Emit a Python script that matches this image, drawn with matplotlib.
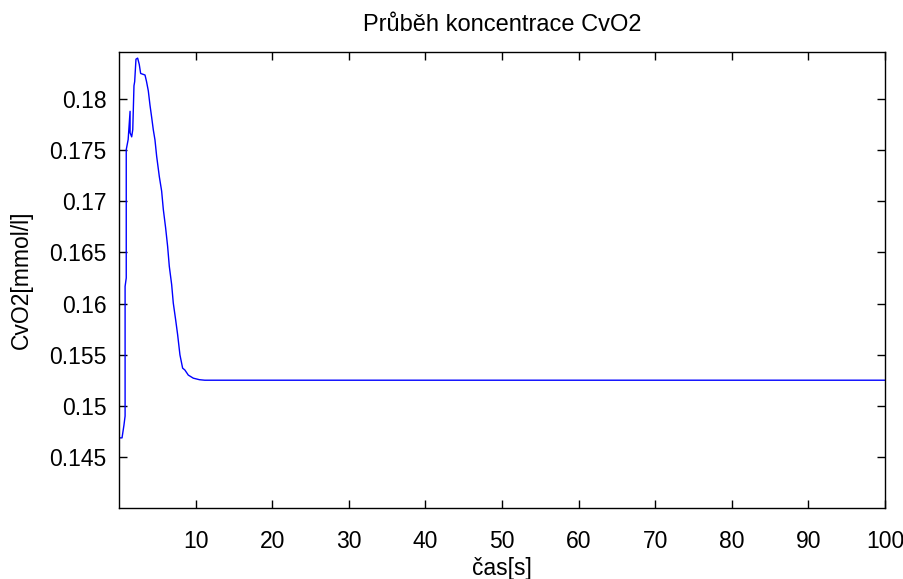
import numpy as np
import matplotlib
matplotlib.use("Agg")
import matplotlib.pyplot as plt

plt.rcParams['font.family'] = ['Liberation Sans', 'DejaVu Sans']

# values (time in s, concentration in mmol/l)
t = [0.0, 0.4, 0.65, 0.8, 0.8, 0.95, 0.95, 1.2, 1.45, 1.45, 1.66, 1.8, 1.96,
     2.05, 2.22, 2.44, 2.65, 2.83, 3.4, 3.6, 3.83, 4.05, 4.27, 4.48, 4.7,
     4.92, 5.27, 5.57, 5.79, 6.09, 6.35, 6.57, 6.88, 7.09, 7.4, 7.66, 7.96,
     8.31, 8.6, 9.05, 9.7, 10.5, 11.2, 100.0]
cvo2 = [0.14686, 0.14686, 0.1481, 0.1490, 0.16167, 0.1625, 0.17505, 0.17604,
        0.1788, 0.1767, 0.1763, 0.1770, 0.1813, 0.1817, 0.1839, 0.1840,
        0.18338, 0.1825, 0.18235, 0.1817, 0.1808, 0.1794, 0.1782, 0.1770,
        0.1760, 0.1744, 0.1724, 0.1710, 0.1692, 0.1674, 0.1656, 0.16364,
        0.16184, 0.16005, 0.1584, 0.15694, 0.15498, 0.15368, 0.1535, 0.1530,
        0.1527, 0.15255, 0.1525, 0.1525]

xticks = [10, 20, 30, 40, 50, 60, 70, 80, 90, 100]
yticks = [0.145, 0.15, 0.155, 0.16, 0.165, 0.17, 0.175, 0.18]
ylabels = ['0.145', '0.15', '0.155', '0.16', '0.165', '0.17', '0.175', '0.18']

fig = plt.figure(figsize=(9.04, 5.79), dpi=100)
ax = fig.add_axes([0.1316, 0.1226, 0.979 - 0.1316, 0.9102 - 0.1226])

ax.plot(t, cvo2, color='#0000ff', linewidth=1.0)

ax.set_xlim(0, 100)
ax.set_ylim(0.14, 0.1846)
ax.set_xticks(xticks)
ax.set_yticks(yticks)
ax.set_yticklabels(ylabels)
ax.tick_params(direction='in', length=6, width=1, top=True, right=True,
               labelsize=16.5)
ax.tick_params(axis='x', pad=16)
ax.tick_params(axis='y', pad=9)
for s in ax.spines.values():
    s.set_linewidth(1.0)

ax.set_title('Průběh koncentrace CvO2', fontsize=17, pad=15)
ax.set_xlabel('čas[s]', fontsize=16.5, labelpad=3)
ax.set_ylabel('CvO2[mmol/l]', fontsize=16.5, labelpad=12)

fig.savefig('out.png', dpi=100)
